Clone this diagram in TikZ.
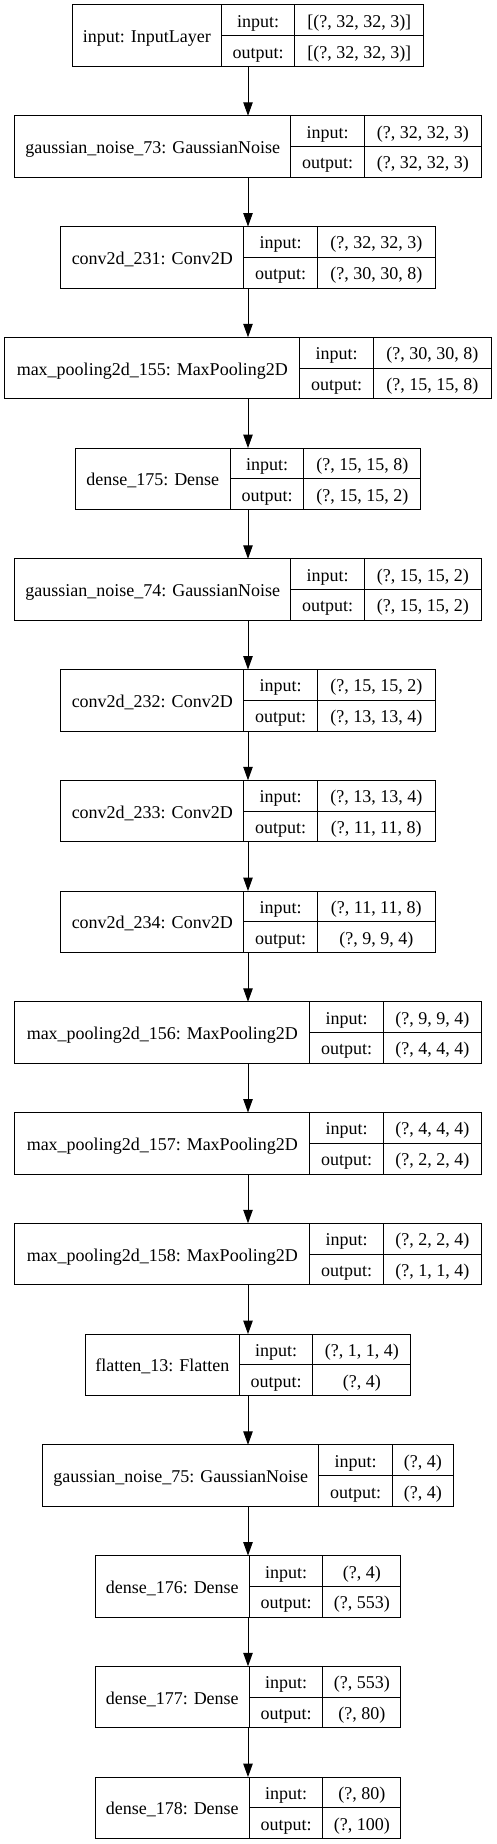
\documentclass[tikz,border=0pt]{standalone}
\usepackage{fontspec}
\setmainfont{Liberation Serif}
\usepackage{tikz}
\usetikzlibrary{positioning, arrows.meta}
\newcommand{\px}{0.75pt}
\newcommand{\boxh}{46.125pt}
\newcommand{\cellh}{23.0625pt}
\tikzstyle{layer}=[rectangle, minimum height=\boxh, inner sep=0pt, outer sep=0pt]
\tikzstyle{cell}=[draw, rectangle, line width=0.75pt, inner sep=0pt, outer sep=0pt, minimum height=\cellh, font=\fontsize{13.5pt}{16pt}\selectfont, text height=12pt, text depth=1.4pt]
\tikzstyle{line}=[draw, line width=0.75pt, -{Triangle[length=10pt, width=7pt]}]
\newcommand{\netlayer}[7]{%
	\node[layer, minimum width={(#4+73.5+#5)*\px}, #2] (#1) {};
	\node[cell, minimum width={#4*\px}, minimum height=\boxh, anchor=west] (#1-name) at (#1.west) {#3};
	\node[cell, minimum width={73.5*\px}, anchor=north west] (#1-inl) at (#1-name.north east) {input:};
	\node[cell, minimum width={73.5*\px}, anchor=north west] (#1-outl) at (#1-inl.south west) {output:};
	\node[cell, minimum width={#5*\px}, anchor=north west] (#1-inv) at (#1-inl.north east) {#6};
	\node[cell, minimum width={#5*\px}, anchor=north west] (#1-outv) at (#1-inv.south west) {#7};
}

\begin{document}
\begin{tikzpicture}[x=0.75pt, y=-0.75pt, node distance=36.94pt]
		\useasboundingbox (0,0) rectangle (496,1844);
		\netlayer{input}{at={(248,35.75)}}{input: InputLayer}{149}{129}{[(?, 32, 32, 3)]}{[(?, 32, 32, 3)]}
		\netlayer{gn73}{below=of input}{gaussian\_noise\_73: GaussianNoise}{276}{117}{(?, 32, 32, 3)}{(?, 32, 32, 3)}
		\netlayer{conv231}{below=of gn73}{conv2d\_231: Conv2D}{183}{118}{(?, 32, 32, 3)}{(?, 30, 30, 8)}
		\netlayer{mp155}{below=of conv231}{max\_pooling2d\_155: MaxPooling2D}{295}{118}{(?, 30, 30, 8)}{(?, 15, 15, 8)}
		\netlayer{dense175}{below=of mp155}{dense\_175: Dense}{155}{117}{(?, 15, 15, 8)}{(?, 15, 15, 2)}
		\netlayer{gn74}{below=of dense175}{gaussian\_noise\_74: GaussianNoise}{276}{117}{(?, 15, 15, 2)}{(?, 15, 15, 2)}
		\netlayer{conv232}{below=of gn74}{conv2d\_232: Conv2D}{183}{118}{(?, 15, 15, 2)}{(?, 13, 13, 4)}
		\netlayer{conv233}{below=of conv232}{conv2d\_233: Conv2D}{183}{118}{(?, 13, 13, 4)}{(?, 11, 11, 8)}
		\netlayer{conv234}{below=of conv233}{conv2d\_234: Conv2D}{183}{118}{(?, 11, 11, 8)}{(?, 9, 9, 4)}
		\netlayer{mp156}{below=of conv234}{max\_pooling2d\_156: MaxPooling2D}{295}{98}{(?, 9, 9, 4)}{(?, 4, 4, 4)}
		\netlayer{mp157}{below=of mp156}{max\_pooling2d\_157: MaxPooling2D}{295}{98}{(?, 4, 4, 4)}{(?, 2, 2, 4)}
		\netlayer{mp158}{below=of mp157}{max\_pooling2d\_158: MaxPooling2D}{295}{98}{(?, 2, 2, 4)}{(?, 1, 1, 4)}
		\netlayer{flat13}{below=of mp158}{flatten\_13: Flatten}{154}{98}{(?, 1, 1, 4)}{(?, 4)}
		\netlayer{gn75}{below=of flat13}{gaussian\_noise\_75: GaussianNoise}{276}{61}{(?, 4)}{(?, 4)}
		\netlayer{dense176}{below=of gn75}{dense\_176: Dense}{154}{78}{(?, 4)}{(?, 553)}
		\netlayer{dense177}{below=of dense176}{dense\_177: Dense}{154}{78}{(?, 553)}{(?, 80)}
		\netlayer{dense178}{below=of dense177}{dense\_178: Dense}{154}{78}{(?, 80)}{(?, 100)}
		\draw[line] (input) -- (gn73);
		\draw[line] (gn73) -- (conv231);
		\draw[line] (conv231) -- (mp155);
		\draw[line] (mp155) -- (dense175);
		\draw[line] (dense175) -- (gn74);
		\draw[line] (gn74) -- (conv232);
		\draw[line] (conv232) -- (conv233);
		\draw[line] (conv233) -- (conv234);
		\draw[line] (conv234) -- (mp156);
		\draw[line] (mp156) -- (mp157);
		\draw[line] (mp157) -- (mp158);
		\draw[line] (mp158) -- (flat13);
		\draw[line] (flat13) -- (gn75);
		\draw[line] (gn75) -- (dense176);
		\draw[line] (dense176) -- (dense177);
		\draw[line] (dense177) -- (dense178);
	\end{tikzpicture}
\end{document}
